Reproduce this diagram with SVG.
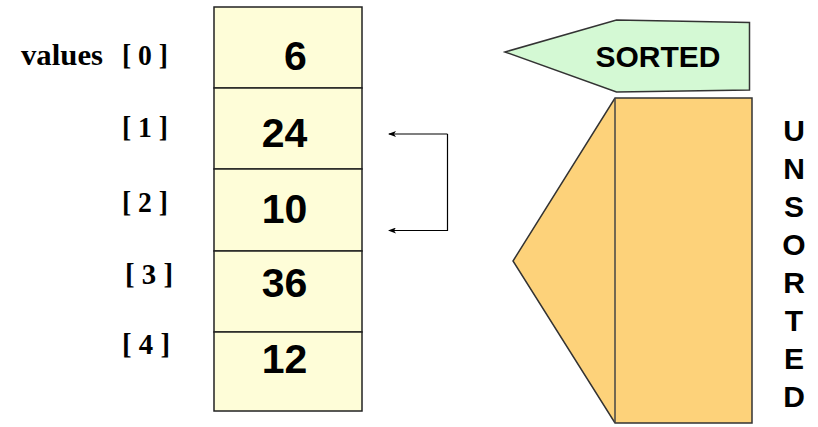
<svg xmlns="http://www.w3.org/2000/svg" width="818" height="427" viewBox="0 0 818 427">
  <defs>
    <marker id="arrow" viewBox="0 0 8 6" refX="7" refY="3" markerWidth="8" markerHeight="6" markerUnits="userSpaceOnUse" orient="auto">
      <path d="M8,3 L0,0 L2,3 L0,6 Z" fill="#000"/>
    </marker>
  </defs>
  <style>
    .cell { fill: #fefdd8; stroke: #222; stroke-width: 1.5; }
    .num { font-family: "Liberation Sans", Arial, sans-serif; font-weight: bold; font-size: 41px; fill: #000; text-anchor: middle; }
    .idx { font-family: "Liberation Serif", "Times New Roman", serif; font-weight: bold; font-size: 30px; fill: #000; }
    .tag { font-family: "Liberation Sans", Arial, sans-serif; font-weight: bold; font-size: 30px; fill: #000; text-anchor: middle; }
    .link { fill: none; stroke: #000; stroke-width: 1.2; }
  </style>

  <!-- index labels -->
  <g id="labels">
    <text class="idx" x="21" y="65" textLength="82" lengthAdjust="spacingAndGlyphs">values</text>
    <text class="idx" x="122" y="65" textLength="46" lengthAdjust="spacingAndGlyphs">[ 0 ]</text>
    <text class="idx" x="122" y="137" textLength="46" lengthAdjust="spacingAndGlyphs">[ 1 ]</text>
    <text class="idx" x="122" y="212" textLength="46" lengthAdjust="spacingAndGlyphs">[ 2 ]</text>
    <text class="idx" x="125" y="284" textLength="48" lengthAdjust="spacingAndGlyphs">[ 3 ]</text>
    <text class="idx" x="122" y="354" textLength="48" lengthAdjust="spacingAndGlyphs">[ 4 ]</text>
  </g>

  <!-- array cells -->
  <g id="cell0">
    <rect class="cell" x="214" y="7" width="148" height="81"/>
    <text class="num" x="295.5" y="70">6</text>
  </g>
  <g id="cell1">
    <rect class="cell" x="214" y="88" width="148" height="81"/>
    <text class="num" x="284.5" y="147">24</text>
  </g>
  <g id="cell2">
    <rect class="cell" x="214" y="169" width="148" height="82"/>
    <text class="num" x="284.5" y="223">10</text>
  </g>
  <g id="cell3">
    <rect class="cell" x="214" y="251" width="148" height="81"/>
    <text class="num" x="284.5" y="297">36</text>
  </g>
  <g id="cell4">
    <rect class="cell" x="214" y="332" width="148" height="79"/>
    <text class="num" x="284.5" y="373">12</text>
  </g>

  <!-- swap bracket between [1] and [2] -->
  <g id="connectors">
    <path class="link" d="M447.5,134 H389" marker-end="url(#arrow)"/>
    <path class="link" d="M447.5,134 V230.5 H389" marker-end="url(#arrow)"/>
  </g>

  <!-- sorted region arrow -->
  <g id="sorted">
    <polygon points="505,52 616.5,20 749.5,22.5 749.5,90 616.5,92" fill="#d4f9d4" stroke="#333" stroke-width="1.5" stroke-linejoin="miter"/>
    <text class="tag" x="658" y="67" font-size="32">SORTED</text>
  </g>

  <!-- unsorted region arrow -->
  <g id="unsorted">
    <polygon points="615,98 752,98 752,423 615,423 513,261" fill="#fdd27a" stroke="#333" stroke-width="1.5"/>
    <line x1="615" y1="98" x2="615" y2="423" stroke="#444" stroke-width="1.5"/>
    <text class="tag" x="794" y="141">U</text>
    <text class="tag" x="794" y="179">N</text>
    <text class="tag" x="794" y="217">S</text>
    <text class="tag" x="794" y="255">O</text>
    <text class="tag" x="794" y="293">R</text>
    <text class="tag" x="794" y="331">T</text>
    <text class="tag" x="794" y="369">E</text>
    <text class="tag" x="794" y="407">D</text>
  </g>
</svg>
